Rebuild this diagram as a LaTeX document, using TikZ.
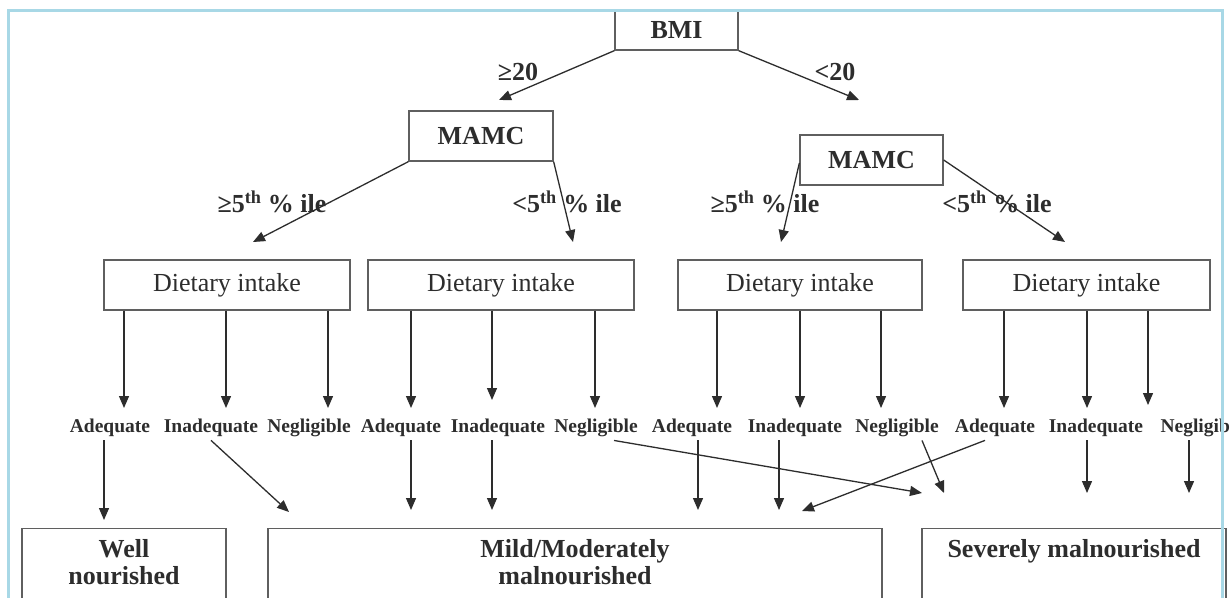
\documentclass[tikz,border=0pt]{standalone}
\usepackage{fontspec}
\setmainfont{Liberation Serif}
\usetikzlibrary{arrows.meta,positioning}

\definecolor{framebl}{RGB}{168,216,230}
\definecolor{ink}{RGB}{45,45,45}
\definecolor{boxln}{RGB}{95,95,95}

\tikzset{
  box/.style={draw=boxln,line width=1.3pt,text=ink,inner sep=0pt},
  arr/.style={draw=ink,line width=1.3pt,-{Triangle[length=12pt,width=10pt]}},
  cond/.style={text=ink,inner sep=0pt,font=\fontsize{26}{27}\selectfont\bfseries},
  intake/.style={text=ink,font=\fontsize{19.5}{22}\selectfont\bfseries},
  diet/.style={box,minimum height=50,font=\fontsize{26}{28}\selectfont},
}

\begin{document}
\begin{tikzpicture}[x=1pt,y=-1pt]
  \useasboundingbox (0,0) rectangle (1230,597);
  \clip (0,0) rectangle (1230,597);
  \fill[white] (0,0) rectangle (1230,597);

  \node[box,minimum width=123,minimum height=40,font=\fontsize{26}{28}\selectfont\bfseries] (bmi) at (676.5,30) {BMI};
  \node[box,minimum width=144,minimum height=50,font=\fontsize{26}{28}\selectfont\bfseries] (mamcL) at (481,136) {MAMC};
  \node[box,minimum width=143,minimum height=50,font=\fontsize{26}{28}\selectfont\bfseries] (mamcR) at (871.5,160) {MAMC};

  \node[cond] (ge20) at (518,72) {≥20};
  \node[cond] (lt20) at (835,72) {<20};
  \node[cond] (geL) at (272,202) {≥5\textsuperscript{th} \% ile};
  \node[cond] (ltL) at (567,202) {<5\textsuperscript{th} \% ile};
  \node[cond] (geR) at (765,202) {≥5\textsuperscript{th} \% ile};
  \node[cond] (ltR) at (997,202) {<5\textsuperscript{th} \% ile};

  \coordinate (t1) at (499,100);
  \coordinate (t2) at (859,100);
  \coordinate (t3) at (253,242);
  \coordinate (t4) at (573,242);
  \coordinate (t5) at (781,242);
  \coordinate (t6) at (1065,242);
  \draw[arr] (bmi.south west) -- (t1);
  \draw[arr] (bmi.south east) -- (t2);
  \draw[arr] (mamcL.south west) -- (t3);
  \draw[arr] (mamcL.south east) -- (t4);
  \draw[arr] ([yshift=-3]mamcR.west) -- (t5);
  \draw[arr] (mamcR.east) -- (t6);

  \node[diet,minimum width=246] (d1) at (227,285) {Dietary intake};
  \node[diet,minimum width=266] (d2) at (501,285) {Dietary intake};
  \node[diet,minimum width=244] (d3) at (800,285) {Dietary intake};
  \node[diet,minimum width=247] (d4) at (1086.5,285) {Dietary intake};

  \node[intake] (a1) at (110,428) {Adequate};
  \node[intake] (i1) at (211,428) {Inadequate};
  \node[intake] (n1) at (309,428) {Negligible};
  \node[intake] (a2) at (401,428) {Adequate};
  \node[intake] (i2) at (498,428) {Inadequate};
  \node[intake] (n2) at (596,428) {Negligible};
  \node[intake] (a3) at (692,428) {Adequate};
  \node[intake] (i3) at (795,428) {Inadequate};
  \node[intake] (n3) at (897,428) {Negligible};
  \node[intake] (a4) at (995,428) {Adequate};
  \node[intake] (i4) at (1096,428) {Inadequate};
  \node[intake,anchor=west] (n4) at (1157,428) {Negligib};

  \coordinate (u11) at (124,408);
  \coordinate (u12) at (226,408);
  \coordinate (u13) at (328,408);
  \coordinate (u21) at (411,408);
  \coordinate (u22) at (492,400);
  \coordinate (u23) at (595,408);
  \coordinate (u31) at (717,408);
  \coordinate (u32) at (800,408);
  \coordinate (u33) at (881,408);
  \coordinate (u41) at (1004,408);
  \coordinate (u42) at (1087,408);
  \coordinate (u43) at (1148,405);
  \draw[arr] (d1.south -| u11) -- (u11);
  \draw[arr] (d1.south -| u12) -- (u12);
  \draw[arr] (d1.south -| u13) -- (u13);
  \draw[arr] (d2.south -| u21) -- (u21);
  \draw[arr] (d2.south -| u22) -- (u22);
  \draw[arr] (d2.south -| u23) -- (u23);
  \draw[arr] (d3.south -| u31) -- (u31);
  \draw[arr] (d3.south -| u32) -- (u32);
  \draw[arr] (d3.south -| u33) -- (u33);
  \draw[arr] (d4.south -| u41) -- (u41);
  \draw[arr] (d4.south -| u42) -- (u42);
  \draw[arr] (d4.south -| u43) -- (u43);

  \node[box,minimum width=204,minimum height=72,anchor=north] (well) at (124,528) {};
  \node[box,minimum width=614,minimum height=72,anchor=north] (mild) at (575,528) {};
  \node[box,minimum width=304,minimum height=72,anchor=north] (severe) at (1074,528) {};
  \node[cond,align=center,below=11pt of well.north] (wellt) {Well\\nourished};
  \node[cond,align=center,below=11pt of mild.north] (mildt) {Mild/Moderately\\malnourished};
  \node[cond,below=11pt of severe.north] (severet) {Severely malnourished};

  \coordinate (w1) at (104,520);
  \coordinate (m1) at (289,512);
  \coordinate (m2) at (411,510);
  \coordinate (m3) at (492,510);
  \coordinate (m4) at (698,510);
  \coordinate (m5) at (779,510);
  \coordinate (m6) at (802,511);
  \coordinate (s1) at (922,493);
  \coordinate (s2) at (944,493);
  \coordinate (s3) at (1087,493);
  \coordinate (s4) at (1189,493);
  \draw[arr] (a1.south -| w1) -- (w1);
  \draw[arr] (i1.south) -- (m1);
  \draw[arr] (a2.south -| m2) -- (m2);
  \draw[arr] (i2.south -| m3) -- (m3);
  \draw[arr] ([xshift=18]n2.south) -- (s1);
  \draw[arr] (a3.south -| m4) -- (m4);
  \draw[arr] (i3.south -| m5) -- (m5);
  \draw[arr] ([xshift=25]n3.south) -- (s2);
  \draw[arr] ([xshift=-10]a4.south) -- (m6);
  \draw[arr] (i4.south -| s3) -- (s3);
  \draw[arr] (n4.south -| s4) -- (s4);

  \draw[framebl,line width=3pt] (8,600) -- (8,10) -- (1222,10) -- (1222,600);
\end{tikzpicture}
\end{document}
